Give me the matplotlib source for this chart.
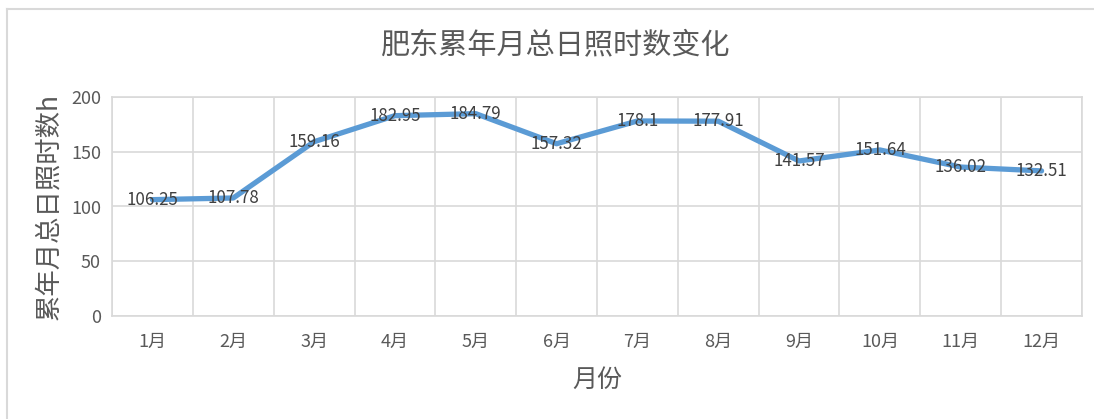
import matplotlib
matplotlib.use("Agg")
import matplotlib.pyplot as plt
from matplotlib.lines import Line2D

plt.rcParams['font.family'] = ['Noto Sans CJK SC', 'DejaVu Sans']

months = ['1月', '2月', '3月', '4月', '5月', '6月', '7月', '8月', '9月', '10月', '11月', '12月']
hours = [106.25, 107.78, 159.16, 182.95, 184.79, 157.32, 178.1, 177.91, 141.57, 151.64, 136.02, 132.51]
labels = ['106.25', '107.78', '159.16', '182.95', '184.79', '157.32', '178.1', '177.91', '141.57', '151.64', '136.02', '132.51']
yticks = [0, 50, 100, 150, 200]

W, H = 1094, 419
fig = plt.figure(figsize=(W / 100, H / 100), dpi=100)
ax = fig.add_axes([112 / W, 1 - 316 / H, (1082 - 112) / W, (316 - 97) / H])

x = list(range(len(months)))
ax.plot(x, hours, color='#5B9BD5', lw=3.8, solid_capstyle='round', solid_joinstyle='round', zorder=3)
for xi, yi, lab in zip(x, hours, labels):
    ax.text(xi, yi, lab, ha='center', va='center', fontsize=12.2, color='#404040', zorder=4)

ax.set_xlim(-0.5, len(months) - 0.5)
ax.set_ylim(0, 200)
ax.set_yticks(yticks)
ax.set_xticks(x)
ax.set_xticklabels(months)
ax.set_xticks([i - 0.5 for i in range(len(months) + 1)], minor=True)
ax.grid(True, which='minor', axis='x', color='#D9D9D9', lw=1.2)
ax.grid(True, which='major', axis='y', color='#D9D9D9', lw=1.2)
ax.grid(False, which='major', axis='x')
ax.tick_params(which='both', length=0)
ax.tick_params(axis='x', labelsize=13, labelcolor='#595959', pad=12)
ax.tick_params(axis='y', labelsize=13, labelcolor='#595959', pad=8)
for s in ax.spines.values():
    s.set_color('#D9D9D9')
    s.set_linewidth(1.2)

ax.set_xlabel('月份', fontsize=18, color='#595959', labelpad=12)
ax.set_ylabel('累年月总日照时数h', fontsize=19, color='#595959', labelpad=6)
fig.text(556 / W, 1 - 45 / H, '肥东累年月总日照时数变化', ha='center', va='center', fontsize=21, color='#595959')

# outer chart border (top and left edges visible)
fig.add_artist(Line2D([7 / W, 1.0], [1 - 9 / H, 1 - 9 / H], transform=fig.transFigure, color='#D9D9D9', lw=1.5))
fig.add_artist(Line2D([7 / W, 7 / W], [0, 1 - 9 / H], transform=fig.transFigure, color='#D9D9D9', lw=1.5))

fig.savefig('out.png', dpi=100)
